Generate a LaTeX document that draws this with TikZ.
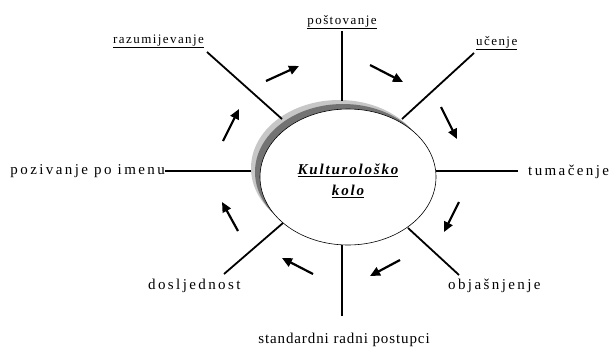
\documentclass[tikz,border=0pt]{standalone}
\usepackage{fontspec}
\setmainfont{Liberation Serif}
\usetikzlibrary{arrows.meta,shapes.geometric}
\begin{document}
\begin{tikzpicture}[x=1pt,y=-1pt,
  spoke/.style={line width=1.8pt},
  flow/.style={line width=2.2pt,-{Triangle[length=10pt,width=9pt]}},
  lbl/.style={inner sep=0pt,font=\fontsize{15}{17}\selectfont\addfontfeature{LetterSpace=16}},
  ulbl/.style={inner sep=0pt,font=\fontsize{13}{15}\selectfont\addfontfeature{LetterSpace=11}},
  oval/.style={ellipse,minimum width=176pt,minimum height=136pt,inner sep=0pt}]
\useasboundingbox (0,0) rectangle (612,351);
% shadow and hub
\node[oval,fill=black!22] (shadowA) at (339,168) {};
\node[oval,fill=black!55] (shadowB) at (343,172) {};
\node[oval,fill=white,draw=black,line width=0.6pt] (hub) at (348,177) {};
\node[inner sep=0pt,align=center,font=\fontsize{15}{21}\selectfont\bfseries\itshape\addfontfeature{LetterSpace=12}] (title) at (348,181)
  {\underline{Kulturološko}\\\underline{kolo}};
% labels
\node[ulbl,anchor=base] (post) at (342,24) {\underline{poštovanje}};
\node[ulbl,anchor=base west] (ucen) at (476,45) {\underline{učenje}};
\node[lbl,anchor=base west] (tum) at (528,175) {tumačenje};
\node[lbl,anchor=base west] (obj) at (448,289) {objašnjenje};
\node[lbl,anchor=base,font=\fontsize{15}{17}\selectfont\addfontfeature{LetterSpace=6}] (std) at (344,343) {standardni radni postupci};
\node[lbl,anchor=base west] (dos) at (148,289) {dosljednost};
\node[lbl,anchor=base east] (poz) at (165,174) {pozivanje po imenu};
\node[ulbl,anchor=base west] (raz) at (113,43) {\underline{razumijevanje}};
% spoke end points
\coordinate (p1) at (342,31);  \coordinate (q1) at (342,101);
\coordinate (p2) at (474,53);  \coordinate (q2) at (402,119);
\coordinate (p3) at (518,171); \coordinate (q3) at (436,171);
\coordinate (p4) at (459,275); \coordinate (q4) at (408,228);
\coordinate (p5) at (342,316); \coordinate (q5) at (342,245);
\coordinate (p6) at (224,274); \coordinate (q6) at (283,223);
\coordinate (p7) at (165,171); \coordinate (q7) at (251,171);
\coordinate (p8) at (207,52);  \coordinate (q8) at (282,119);
\foreach \i in {1,...,8} \draw[spoke] (p\i) -- (q\i);
% flow arrows
\coordinate (a1) at (266,81);  \coordinate (b1) at (299,66);
\coordinate (a2) at (370,65);  \coordinate (b2) at (403,82);
\coordinate (a3) at (441,107); \coordinate (b3) at (457,139);
\coordinate (a4) at (459,202); \coordinate (b4) at (444,232);
\coordinate (a5) at (400,260); \coordinate (b5) at (370,276);
\coordinate (a6) at (313,274); \coordinate (b6) at (282,258);
\coordinate (a7) at (238,231); \coordinate (b7) at (222,202);
\coordinate (a8) at (223,141); \coordinate (b8) at (239,109);
\foreach \i in {1,...,8} \draw[flow] (a\i) -- (b\i);
\end{tikzpicture}
\end{document}
